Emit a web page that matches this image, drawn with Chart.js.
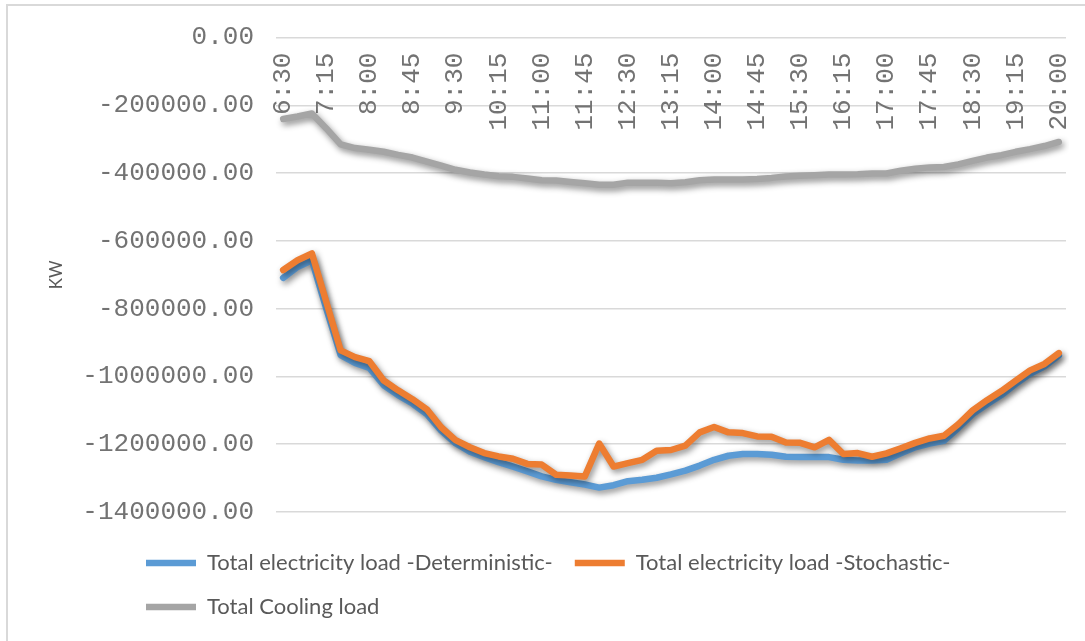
<!DOCTYPE html>
<html>
<head>
<meta charset="utf-8">
<script src="https://cdn.jsdelivr.net/npm/chart.js@4.4.0/dist/chart.umd.min.js"></script>
<style>
  html, body { margin: 0; padding: 0; background: #fff; }
  #wrap { position: relative; width: 1085px; height: 641px; overflow: hidden; }
  #frame { position: absolute; left: 6px; top: 4px; width: 1200px; height: 800px;
           border: 2px solid #d9d9d9; pointer-events: none; }
  canvas { position: absolute; left: 0; top: 0; }
</style>
</head>
<body>
<div id="wrap">
  <canvas id="loadChart" width="1085" height="641"></canvas>
  <div id="frame"></div>
</div>
<script>
// 15-minute time steps, 6:30 -> 20:00
const timeLabels = [
    '6:30', '6:45', '7:00', '7:15', '7:30', '7:45', '8:00', '8:15', '8:30', '8:45',
    '9:00', '9:15', '9:30', '9:45', '10:00', '10:15', '10:30', '10:45', '11:00', '11:15',
    '11:30', '11:45', '12:00', '12:15', '12:30', '12:45', '13:00', '13:15', '13:30', '13:45',
    '14:00', '14:15', '14:30', '14:45', '15:00', '15:15', '15:30', '15:45', '16:00', '16:15',
    '16:30', '16:45', '17:00', '17:15', '17:30', '17:45', '18:00', '18:15', '18:30', '18:45',
    '19:00', '19:15', '19:30', '19:45', '20:00'
];

const deterministicLoad = [
    -709000, -677000, -657000, -800000, -937000, -960000, -975000, -1026000, -1055000, -1080000,
    -1111000, -1160000, -1197000, -1222000, -1238000, -1253000, -1266000, -1280000, -1295000, -1305000,
    -1312000, -1319000, -1328000, -1321000, -1309000, -1305000, -1299000, -1289000, -1278000, -1263000,
    -1246000, -1234000, -1229000, -1229000, -1231000, -1237000, -1238000, -1238000, -1238000, -1246000,
    -1248000, -1248000, -1246000, -1227000, -1209000, -1198000, -1190000, -1152000, -1111000, -1082000,
    -1055000, -1022000, -992000, -970000, -938000
];

const stochasticLoad = [
    -686000, -657000, -637000, -780000, -923000, -943000, -955000, -1012000, -1041000, -1067000,
    -1097000, -1150000, -1188000, -1209000, -1226000, -1236000, -1243000, -1258000, -1260000, -1290000,
    -1292000, -1295000, -1198000, -1266000, -1256000, -1246000, -1219000, -1217000, -1204000, -1165000,
    -1149000, -1165000, -1167000, -1177000, -1178000, -1195000, -1196000, -1209000, -1187000, -1229000,
    -1226000, -1237000, -1227000, -1212000, -1196000, -1183000, -1175000, -1141000, -1100000, -1070000,
    -1043000, -1012000, -982000, -963000, -931000
];

const coolingLoad = [
    -240000, -233000, -224000, -268000, -315000, -326000, -331000, -337000, -346000, -354000,
    -366000, -378000, -390000, -398000, -404000, -409000, -411000, -416000, -421000, -422000,
    -426000, -430000, -434000, -434000, -428000, -428000, -428000, -430000, -427000, -421000,
    -419000, -419000, -419000, -417000, -414000, -410000, -408000, -406000, -404000, -404000,
    -403000, -401000, -401000, -393000, -387000, -383000, -382000, -374000, -364000, -354000,
    -347000, -337000, -329000, -320000, -308000
];

const MONO = 'Liberation Mono';
const SANS = 'Lato';

// soft drop shadow under the series lines (Excel "outer shadow" look)
const lineShadow = {
    id: 'lineShadow',
    beforeDatasetsDraw(chart) {
        const ctx = chart.ctx;
        ctx.save();
        ctx.shadowColor = 'rgba(0, 0, 0, 0.45)';
        ctx.shadowBlur = 6;
        ctx.shadowOffsetX = 2;
        ctx.shadowOffsetY = 3;
    },
    afterDatasetsDraw(chart) {
        chart.ctx.restore();
    }
};

// legend sits left-aligned under the plot, wrapping into two rows
const legendPlacement = {
    id: 'legendPlacement',
    afterLayout(chart) {
        const lg = chart.legend;
        lg.left = 124;
        lg.right = 1000;
        lg.top = 530;
        lg.bottom = 641;
        lg.width = lg.right - lg.left;
        lg.height = lg.bottom - lg.top;
    }
};

function lineDataset(label, data, color, order) {
    return {
        label: label,
        data: data,
        borderColor: color,
        backgroundColor: color,
        borderWidth: 6.5,
        borderCapStyle: 'round',
        borderJoinStyle: 'round',
        pointRadius: 0,
        tension: 0,
        fill: false,
        order: order
    };
}

new Chart(document.getElementById('loadChart'), {
    type: 'line',
    data: {
        labels: timeLabels,
        datasets: [
            lineDataset('Total electricity load -Deterministic-', deterministicLoad, '#5B9BD5', 2),
            lineDataset('Total electricity load -Stochastic-', stochasticLoad, '#ED7D31', 1),
            lineDataset('Total Cooling load', coolingLoad, '#A5A5A5', 0)
        ]
    },
    options: {
        responsive: false,
        animation: false,
        devicePixelRatio: 1,
        layout: { padding: { left: 7, right: 19, top: 34, bottom: 31 } },
        plugins: {
            tooltip: { enabled: false },
            legend: {
                position: 'bottom',
                align: 'start',
                labels: {
                    usePointStyle: true,
                    pointStyle: 'line',
                    pointStyleWidth: 50,
                    padding: 22,
                    color: '#595959',
                    font: { family: SANS, size: 22 },
                    sort: function (a, b) { return a.datasetIndex - b.datasetIndex; }
                }
            }
        },
        scales: {
            x: {
                position: { y: 0 },
                offset: true,
                grid: { display: false, drawTicks: false },
                border: { display: false },
                ticks: {
                    autoSkip: false,
                    minRotation: 90,
                    maxRotation: 90,
                    padding: 15,
                    color: '#737373',
                    font: { family: MONO, size: 26 },
                    callback: function (v, i) { return i % 3 === 0 ? timeLabels[i] : ''; }
                },
                // labels hang inside the plot under the 0 line, so take no layout room
                afterFit: function (scale) {
                    scale.height = 0;
                    scale.paddingLeft = 0;
                    scale.paddingRight = 0;
                }
            },
            y: {
                min: -1400000,
                max: 0,
                grid: { color: '#d9d9d9', lineWidth: 1.5, drawTicks: false },
                border: { display: false },
                ticks: {
                    stepSize: 200000,
                    padding: 22,
                    color: '#737373',
                    font: { family: MONO, size: 26 },
                    callback: function (v) { return Number(v).toFixed(2); }
                },
                title: {
                    display: true,
                    text: 'KW',
                    color: '#595959',
                    font: { family: SANS, size: 17 },
                    padding: { top: 39, bottom: 0 }
                },
                afterFit: function (scale) { scale.width = 269; }
            }
        }
    },
    plugins: [lineShadow, legendPlacement]
});
</script>
</body>
</html>
